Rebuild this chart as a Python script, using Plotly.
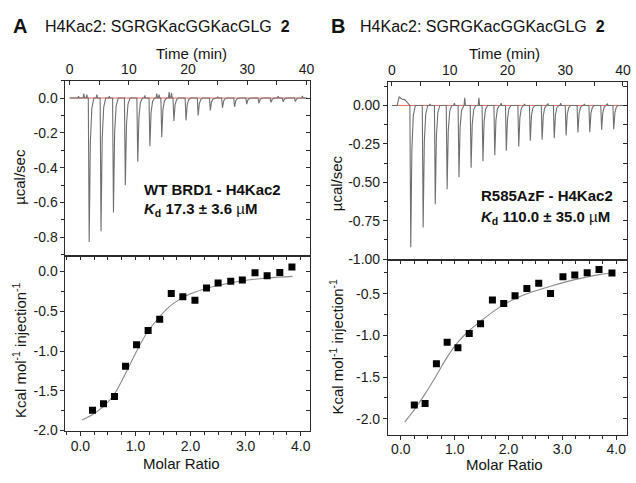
import plotly.graph_objects as go

FONT = "Liberation Sans, Arial, Helvetica, sans-serif"
W, H = 636, 483

# ---------------- data ----------------
# Panel A raw thermogram (time in min, µcal/sec)
a_inj_time = [3.2, 5.2, 7.3, 9.3, 11.4, 13.45, 15.45, 17.5, 19.55, 21.6, 23.65, 25.7, 27.75, 29.8, 31.85, 33.9, 35.95, 38.0]
a_inj_peak = [-0.826, -0.764, -0.657, -0.500, -0.366, -0.276, -0.225, -0.131, -0.128, -0.100, -0.071, -0.056,
              -0.050, -0.035, -0.030, -0.025, -0.022, -0.020]
a_blip_time = [1.5, 2.4, 2.9, 4.6, 6.7, 12.7, 14.7, 15.1, 16.8, 17.2, 25.0, 35.2, 39.3]
a_blip_val = [0.01, 0.025, 0.02, 0.02, 0.01, 0.015, 0.025, 0.02, 0.035, 0.03, 0.008, 0.01, 0.012]
a_drift_time = []
a_drift_val = []

# Panel A integrated heats
a_molar = [0.22, 0.42, 0.62, 0.82, 1.02, 1.23, 1.44, 1.65, 1.86, 2.08, 2.29, 2.50, 2.73, 2.94, 3.17, 3.39, 3.62, 3.84]
a_heat = [-1.745, -1.663, -1.572, -1.193, -0.922, -0.741, -0.601, -0.275, -0.317, -0.362, -0.206, -0.144,
          -0.123, -0.107, -0.016, -0.053, -0.012, 0.058]
a_fit_x = [0.03, 0.2, 0.4, 0.6, 0.8, 1.0, 1.2, 1.4, 1.6, 1.8, 2.0, 2.3, 2.6, 3.0, 3.4, 3.85]
a_fit_y = [-1.87, -1.81, -1.71, -1.56, -1.31, -1.03, -0.78, -0.60, -0.45, -0.35, -0.28, -0.21, -0.16, -0.11, -0.08, -0.06]

# Panel B raw thermogram
b_inj_time = [3.15, 5.3, 7.4, 9.45, 11.5, 13.6, 15.65, 17.7, 19.7, 21.85, 23.85, 25.9, 28.0, 30.05, 32.1, 34.15, 36.2, 38.3]
b_inj_peak = [-0.923, -0.794, -0.643, -0.546, -0.467, -0.406, -0.363, -0.325, -0.295, -0.267, -0.230, -0.224,
              -0.213, -0.196, -0.176, -0.174, -0.159, -0.155]
b_blip_time = [6.6, 10.8, 12.6, 15.05, 18.9, 22.95, 27.0, 29.2, 33.3, 37.3]
b_blip_val = [0.01, 0.015, 0.05, 0.05, 0.015, 0.01, 0.01, 0.015, 0.01, 0.01]
b_drift_time = [0.9, 1.25, 1.7, 2.2, 2.6, 3.0]
b_drift_val = [0.0, 0.055, 0.042, 0.038, 0.02, 0.005]

# Panel B integrated heats
b_molar = [0.25, 0.45, 0.66, 0.86, 1.06, 1.27, 1.48, 1.70, 1.91, 2.12, 2.34, 2.56, 2.78, 3.01, 3.23, 3.46, 3.68, 3.92]
b_heat = [-1.835, -1.815, -1.34, -1.08, -1.146, -0.975, -0.86, -0.575, -0.615, -0.524, -0.437, -0.374,
          -0.497, -0.295, -0.274, -0.247, -0.208, -0.25]
b_fit_x = [0.07, 0.25, 0.45, 0.66, 0.86, 1.06, 1.27, 1.48, 1.70, 1.91, 2.12, 2.34, 2.78, 3.23, 3.68, 3.92]
b_fit_y = [-2.04, -1.89, -1.70, -1.48, -1.26, -1.08, -0.94, -0.83, -0.72, -0.63, -0.56, -0.50, -0.41, -0.33, -0.27, -0.25]

baseline_val = 0.0
time_end = 40.0

# tick values / labels
a_raw_ticks = [0.0, -0.2, -0.4, -0.6, -0.8]
b_raw_ticks = [0.0, -0.25, -0.5, -0.75, -1.0]
a_heat_ticks = [0.0, -0.5, -1.0, -1.5, -2.0]
b_heat_ticks = [-0.5, -1.0, -1.5, -2.0]
time_ticks = [0, 10, 20, 30, 40]
molar_ticks = [0.0, 1.0, 2.0, 3.0, 4.0]


def thermogram(inj_t, inj_h, blip_t, blip_v, drift_t, drift_v):
    events = []
    for t, h in zip(inj_t, inj_h):
        events.append((t, [(t - 0.05, 0.0), (t + 0.1, h), (t + 0.3, 0.3 * h), (t + 0.55, 0.07 * h), (t + 0.9, 0.0)]))
    for t, v in zip(blip_t, blip_v):
        events.append((t, [(t - 0.12, 0.0), (t, v), (t + 0.12, 0.0)]))
    for t, v in zip(drift_t, drift_v):
        events.append((t, [(t, v)]))
    events.sort(key=lambda e: e[0])
    xs, ys = [0.0], [baseline_val]
    for _, pts in events:
        for x, y in pts:
            xs.append(x)
            ys.append(y + baseline_val)
    xs.append(time_end)
    ys.append(baseline_val)
    return xs, ys


# ---------------- geometry (pixels) ----------------
def px_x(x):
    return x / W


def px_y(y):
    return 1 - y / H


L_DOM = [px_x(66), px_x(312)]
R_DOM = [px_x(391), px_x(632)]
TL_DOM = [px_y(260), px_y(82)]
BL_DOM = [px_y(438), px_y(260)]
TR_DOM = [px_y(264), px_y(83)]
BR_DOM = [px_y(442), px_y(264)]

LINE = "#2b2b2b"
TICKFONT = dict(family=FONT, size=14, color="#1a1a1a")

fig = go.Figure()

# --- Panel A ---
ax, ay = thermogram(a_inj_time, a_inj_peak, a_blip_time, a_blip_val, a_drift_time, a_drift_val)
fig.add_trace(go.Scatter(x=[0, time_end], y=[baseline_val, baseline_val], mode="lines",
                         line=dict(color="#e8675c", width=1), xaxis="x", yaxis="y"))
fig.add_trace(go.Scatter(x=ax, y=ay, mode="lines", line=dict(color="#6f6f6f", width=1.1),
                         xaxis="x", yaxis="y"))
fig.add_trace(go.Scatter(x=a_fit_x, y=a_fit_y, mode="lines", line=dict(color="#8a8a8a", width=1.1, shape="spline"),
                         xaxis="x2", yaxis="y2"))
fig.add_trace(go.Scatter(x=a_molar, y=a_heat, mode="markers",
                         marker=dict(symbol="square", size=7, color="black"), xaxis="x2", yaxis="y2"))

# --- Panel B ---
bx, by = thermogram(b_inj_time, b_inj_peak, b_blip_time, b_blip_val, b_drift_time, b_drift_val)
fig.add_trace(go.Scatter(x=[0, time_end], y=[baseline_val, baseline_val], mode="lines",
                         line=dict(color="#e8675c", width=1), xaxis="x3", yaxis="y3"))
fig.add_trace(go.Scatter(x=bx, y=by, mode="lines", line=dict(color="#6f6f6f", width=1.1),
                         xaxis="x3", yaxis="y3"))
fig.add_trace(go.Scatter(x=b_fit_x, y=b_fit_y, mode="lines", line=dict(color="#8a8a8a", width=1.1, shape="spline"),
                         xaxis="x4", yaxis="y4"))
fig.add_trace(go.Scatter(x=b_molar, y=b_heat, mode="markers",
                         marker=dict(symbol="square", size=7, color="black"), xaxis="x4", yaxis="y4"))

# dummy traces to activate tick-only overlay axes (inside ticks on the mirrored sides)
for xa, ya in [("x", "y5"), ("x5", "y2"), ("x2", "y6"), ("x3", "y7"), ("x6", "y4"), ("x4", "y8")]:
    fig.add_trace(go.Scatter(x=[None], y=[None], xaxis=xa, yaxis=ya, hoverinfo="skip"))


def main_axis(**kw):
    d = dict(showline=True, linecolor=LINE, linewidth=1, mirror=True, showgrid=False, zeroline=False,
             ticks="outside", ticklen=4, tickcolor=LINE, tickwidth=1, tickfont=TICKFONT,
             ticklabeloverflow="allow")
    d.update(kw)
    return d


def tick_only(**kw):
    d = dict(showline=False, showgrid=False, zeroline=False, showticklabels=False,
             ticks="inside", ticklen=4, tickcolor=LINE, tickwidth=1)
    d.update(kw)
    return d


def minor(dt, ticks="outside", ln=3):
    return dict(dtick=dt, tick0=0, ticks=ticks, ticklen=ln, tickcolor=LINE, showgrid=False)


A_TIME_RANGE = [-0.7, 40.5]
B_TIME_RANGE = [-0.7, 40.7]
A_RAW_RANGE = [-0.905, 0.1]
B_RAW_RANGE = [-1.004, 0.155]
A_HEAT_RANGE = [-2.004, 0.2]
B_HEAT_RANGE = [-2.19, -0.09]
A_MOLAR_RANGE = [-0.27, 4.16]
B_MOLAR_RANGE = [-0.24, 4.2]

fig.update_layout(
    width=W, height=H, margin=dict(l=0, r=0, t=0, b=0),
    paper_bgcolor="white", plot_bgcolor="white", showlegend=False,
    font=dict(family=FONT, color="#1a1a1a"),
    # Panel A raw
    xaxis=main_axis(domain=L_DOM, anchor="y", side="top", range=A_TIME_RANGE, ticks="inside",
                    tickmode="array", tickvals=time_ticks, ticktext=[str(v) for v in time_ticks],
                    minor=minor(5, "inside", 4)),
    yaxis=main_axis(domain=TL_DOM, anchor="x", range=A_RAW_RANGE, tickmode="array",
                    tickvals=a_raw_ticks, ticktext=[f"{v:.1f}" for v in a_raw_ticks], minor=minor(0.1)),
    yaxis5=tick_only(overlaying="y", side="right", anchor="x", range=A_RAW_RANGE, dtick=0.1, tick0=0),
    # Panel A heats
    xaxis2=main_axis(domain=L_DOM, anchor="y2", range=A_MOLAR_RANGE, tickmode="array",
                     tickvals=molar_ticks, ticktext=[f"{v:.1f}" for v in molar_ticks], minor=minor(0.25),
                     ticklabelstandoff=-2),
    xaxis5=tick_only(overlaying="x2", side="top", anchor="y2", range=A_MOLAR_RANGE, dtick=0.25, tick0=0),
    yaxis2=main_axis(domain=BL_DOM, anchor="x2", range=A_HEAT_RANGE, tickmode="array",
                     tickvals=a_heat_ticks, ticktext=[f"{v:.1f}" for v in a_heat_ticks], minor=minor(0.25)),
    yaxis6=tick_only(overlaying="y2", side="right", anchor="x2", range=A_HEAT_RANGE, dtick=0.25, tick0=0),
    # Panel B raw
    xaxis3=main_axis(domain=R_DOM, anchor="y3", side="top", range=B_TIME_RANGE, ticks="inside",
                     tickmode="array", tickvals=time_ticks, ticktext=[str(v) for v in time_ticks],
                     minor=minor(5, "inside", 4)),
    yaxis3=main_axis(domain=TR_DOM, anchor="x3", range=B_RAW_RANGE, tickmode="array",
                     tickvals=b_raw_ticks, ticktext=[f"{v:.2f}" for v in b_raw_ticks], minor=minor(0.125)),
    yaxis7=tick_only(overlaying="y3", side="right", anchor="x3", range=B_RAW_RANGE, dtick=0.125, tick0=0),
    # Panel B heats
    xaxis4=main_axis(domain=R_DOM, anchor="y4", range=B_MOLAR_RANGE, tickmode="array",
                     tickvals=molar_ticks, ticktext=[f"{v:.1f}" for v in molar_ticks], minor=minor(0.25),
                     ticklabelstandoff=-2),
    xaxis6=tick_only(overlaying="x4", side="top", anchor="y4", range=B_MOLAR_RANGE, dtick=0.25, tick0=0),
    yaxis4=main_axis(domain=BR_DOM, anchor="x4", range=B_HEAT_RANGE, tickmode="array",
                     tickvals=b_heat_ticks, ticktext=[f"{v:.1f}" for v in b_heat_ticks], minor=minor(0.25)),
    yaxis8=tick_only(overlaying="y4", side="right", anchor="x4", range=B_HEAT_RANGE, dtick=0.25, tick0=0),
)


def ann(text, x, y, size=15, angle=0, xanchor="center", **kw):
    fig.add_annotation(text=text, x=px_x(x), y=px_y(y), xref="paper", yref="paper", showarrow=False,
                       xanchor=xanchor, yanchor="middle", textangle=angle,
                       font=dict(family=FONT, size=size, color="#111"), **kw)


# panel letters & titles
ann("<b>A</b>", 20, 26, size=20)
ann("H4Kac2: SGRGKacGGKacGLG\u00a0\u00a0<b>2</b>", 43, 27, size=16, xanchor="left")
ann("<b>B</b>", 341, 26, size=20)
ann("H4Kac2: SGRGKacGGKacGLG\u00a0\u00a0<b>2</b>", 361, 27, size=16, xanchor="left")

# axis titles
ann("Time (min)", 193, 54)
ann("Time (min)", 508, 54)
ann("µcal/sec", 19, 180, angle=-90)
ann("µcal/sec", 340, 186, angle=-90)
ann("Kcal mol<sup>-1</sup> injection<sup>-1</sup>", 19, 356, angle=-90)
ann("Kcal mol<sup>-1</sup> injection<sup>-1</sup>", 339, 352, angle=-90)
ann("Molar Ratio", 183, 471)
ann("Molar Ratio", 509, 472)

# in-plot labels
ann("<b>WT BRD1 - H4Kac2</b>", 143, 193, size=15, xanchor="left")
ann("<b><i>K</i><sub>d</sub> 17.3 ± 3.6 </b>µ<b>M</b>", 143, 213, size=15, xanchor="left")
ann("<b>R585AzF - H4Kac2</b>", 483, 199, size=15, xanchor="left")
ann("<b><i>K</i><sub>d</sub> 110.0 ± 35.0 </b>µ<b>M</b>", 483, 221, size=15, xanchor="left")

fig.write_html(
    "out.html",
    config={"displayModeBar": False},
    post_script=("document.documentElement.style.overflow='hidden';"
                 "document.body.style.margin='0';document.body.style.padding='0';"
                 "document.body.style.overflow='hidden';"
                 "var gd=document.getElementsByClassName('plotly-graph-div')[0];"
                 "gd.style.position='absolute';gd.style.left='0px';gd.style.top='0px';"),
)
